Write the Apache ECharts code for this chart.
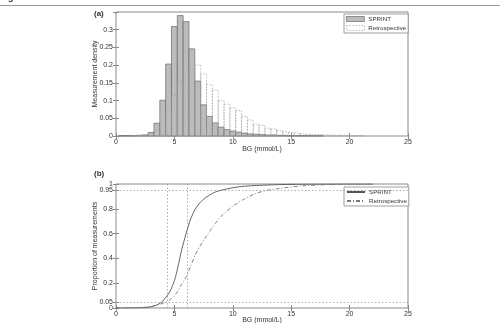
<!DOCTYPE html>
<html><head><meta charset="utf-8">
<script src="https://cdn.jsdelivr.net/npm/echarts@6/dist/echarts.min.js"></script>
<style>html,body{margin:0;padding:0;background:#fff}#c{width:500px;height:323px}</style>
</head><body><div id="c"></div>
<script>
// Histogram bin centres (mmol/L), bin width 0.5
const binCenters = [0.5,1,1.5,2,2.5,3,3.5,4,4.5,5,5.5,6,6.5,7,7.5,8,8.5,9,9.5,10,10.5,11,11.5,12,12.5,13,13.5,14,14.5,15,15.5,16,16.5,17,17.5,18,18.5,19,19.5,20,20.5,21];
const sprintDensity = [0.001,0.001,0.001,0.002,0.003,0.010,0.036,0.101,0.203,0.309,0.340,0.323,0.246,0.155,0.088,0.055,0.037,0.025,0.018,0.014,0.011,0.008,0.006,0.005,0.004,0.003,0.003,0.002,0.002,0.001,0.001,0.001,0.001,0.001,0.001,0,0,0,0,0,0,0];
const retroDensity  = [0,0,0.001,0.002,0.003,0.006,0.015,0.030,0.070,0.115,0.155,0.185,0.190,0.200,0.175,0.145,0.130,0.100,0.090,0.080,0.072,0.055,0.045,0.033,0.030,0.022,0.020,0.015,0.012,0.010,0.008,0.006,0.005,0.004,0.004,0.003,0.003,0.002,0.002,0.002,0.001,0.001];
// Cumulative distributions
const cdfX = [0,1,2,2.5,3,3.5,3.8,4,4.3,4.6,5,5.3,5.6,6,6.4,6.8,7.2,7.6,8,8.5,9,10,11,12,13,14,16,18,20,22];
const sprintCdf = [0,0,0.002,0.004,0.01,0.025,0.04,0.055,0.09,0.13,0.22,0.33,0.46,0.6,0.72,0.8,0.85,0.885,0.91,0.935,0.95,0.97,0.982,0.988,0.992,0.995,0.998,0.999,1,1];
const retroCdf  = [0,0,0.003,0.006,0.012,0.022,0.03,0.038,0.05,0.065,0.1,0.135,0.19,0.25,0.34,0.43,0.5,0.56,0.615,0.68,0.74,0.82,0.88,0.925,0.95,0.965,0.985,0.995,1,1];
const refLinesX = [4.4, 6.1];
const refLinesY = [0.05, 0.95];
const topYTicks = [0,0.05,0.1,0.15,0.2,0.25,0.3];
const bottomYTicks = [0,0.05,0.2,0.4,0.6,0.8,0.95,1];
const bottomYLabelsA = [0.05,0.2,0.4,0.6,0.8,0.95];
const bottomYLabelsB = [0,1];

const chart = echarts.init(document.getElementById('c'));
const FONT = 'Liberation Sans';
const TXT = '#333';
const AX = '#8a8a8a';

function histItem(width, style){
  return function(params, api){
    const c = api.value(0), v = api.value(1);
    if (!v) return;
    const p1 = api.coord([c - width/2, v]);
    const p2 = api.coord([c + width/2, 0]);
    return {type:'rect', shape:{x:p1[0], y:p1[1], width:p2[0]-p1[0], height:p2[1]-p1[1]}, style: style};
  };
}
const sprintStyle = {fill:'#bcbcbc', stroke:'#6a6a6a', lineWidth:0.7};
const retroStyle = {fill:'none', stroke:'#a0a0a0', lineWidth:0.7, lineDash:[1.5,1.5]};

function xAx(grid, gap){
  return {type:'value', gridIndex:grid, min:0, max:25, interval:5, position:'bottom',
    axisLine:{show:false}, splitLine:{show:false},
    axisTick:{show:true, inside:true, length:3, lineStyle:{color:AX}},
    axisLabel:{show:true, color:TXT, fontSize:7, fontFamily:FONT, margin:3, showMinLabel:true, showMaxLabel:true},
    name:'BG (mmol/L)', nameLocation:'middle', nameGap:gap, nameMoveOverlap:false,
    nameTextStyle:{color:TXT, fontSize:7, fontFamily:FONT}};
}
function xAxTop(grid){
  return {type:'value', gridIndex:grid, min:0, max:25, interval:5, position:'top',
    axisLine:{show:false}, splitLine:{show:false},
    axisTick:{show:true, inside:true, length:3, lineStyle:{color:AX}}, axisLabel:{show:false}};
}
function legendCfg(top, data){
  return {data:data, orient:'vertical', left:344, top:top, itemWidth:18, itemHeight:5, itemGap:3, padding:[2,2,2,2],
     borderColor:'#888', borderWidth:0.8, backgroundColor:'#fff', selectedMode:false,
     formatter: n => n.trim(),
     textStyle:{color:TXT, fontSize:6.2, fontFamily:FONT, padding:[0,0,0,-1]}};
}
const hiddenSym = {color:'rgba(0,0,0,0)', borderColor:'rgba(0,0,0,0)', borderWidth:0};

const option = {
  animation:false,
  backgroundColor:'#fff',
  textStyle:{fontFamily:FONT},
  graphic:[
    {type:'text', left:0, top:-7, style:{text:'Figure 2', font:'bold 9px "Liberation Sans"', fill:'#333'}},
    {type:'line', shape:{x1:0, y1:5.5, x2:500, y2:5.5}, style:{stroke:'#9a9a9a', lineWidth:1}},
    {type:'text', left:94, top:10, style:{text:'(a)', font:'bold 8px "Liberation Sans"', fill:'#333'}},
    {type:'text', left:94, top:170, style:{text:'(b)', font:'bold 8px "Liberation Sans"', fill:'#333'}}
  ],
  grid:[
    {left:116, top:12, width:292, height:124, show:true, borderColor:AX, borderWidth:1, backgroundColor:'transparent', outerBoundsMode:'none', containLabel:false},
    {left:116, top:184, width:292, height:124, show:true, borderColor:AX, borderWidth:1, backgroundColor:'transparent', outerBoundsMode:'none', containLabel:false}
  ],
  legend:[
    legendCfg(14, [{name:'SPRINT', icon:'rect', itemStyle:{color:'#bcbcbc', borderColor:'#6a6a6a', borderWidth:0.7}},
           {name:'Retrospective', icon:'rect', itemStyle:{color:'#fff', borderColor:'#a0a0a0', borderWidth:0.7, borderType:[1.5,1.5]}}]),
    legendCfg(187, [{name:'SPRINT ', itemStyle:hiddenSym}, {name:'Retrospective ', itemStyle:hiddenSym}])
  ],
  xAxis:[xAx(0, 9.5), xAx(1, 8.5), xAxTop(0), xAxTop(1)],
  yAxis:[
    {type:'value', gridIndex:0, min:0, max:0.35, interval:0.05, splitLine:{show:false}, axisLine:{show:false},
     axisTick:{show:true, inside:true, length:3, lineStyle:{color:AX}},
     axisLabel:{color:TXT, fontSize:7, fontFamily:FONT, margin:3, customValues:topYTicks},
     name:'Measurement density', nameLocation:'middle', nameGap:17, nameMoveOverlap:false,
     nameTextStyle:{color:TXT, fontSize:7, fontFamily:FONT}},
    {type:'value', gridIndex:1, min:0, max:1, interval:0.05, splitLine:{show:false}, axisLine:{show:false},
     axisTick:{show:true, inside:true, length:3, lineStyle:{color:AX}, customValues:bottomYTicks},
     axisLabel:{color:TXT, fontSize:7, fontFamily:FONT, margin:3, customValues:bottomYLabelsA, hideOverlap:false},
     name:'Proportion of measurements', nameLocation:'middle', nameGap:17, nameMoveOverlap:false,
     nameTextStyle:{color:TXT, fontSize:7, fontFamily:FONT}},
    {type:'value', gridIndex:0, min:0, max:0.35, interval:0.05, position:'right', splitLine:{show:false}, axisLine:{show:false},
     axisTick:{show:true, inside:true, length:3, lineStyle:{color:AX}}, axisLabel:{show:false}},
    {type:'value', gridIndex:1, min:0, max:1, interval:0.05, position:'right', splitLine:{show:false}, axisLine:{show:false},
     axisTick:{show:true, inside:true, length:3, lineStyle:{color:AX}, customValues:bottomYTicks}, axisLabel:{show:false}},
    {type:'value', gridIndex:1, min:0, max:1, interval:0.05, position:'left', splitLine:{show:false}, axisLine:{show:false},
     axisTick:{show:false},
     axisLabel:{color:TXT, fontSize:7, fontFamily:FONT, margin:3, customValues:bottomYLabelsB, showMinLabel:true, showMaxLabel:true}}
  ],
  series:[
    {name:'SPRINT', type:'custom', xAxisIndex:0, yAxisIndex:0, renderItem:histItem(0.5, sprintStyle),
     itemStyle:{color:'#bcbcbc'}, data: binCenters.map((c,i)=>[c, sprintDensity[i]]), z:2},
    {name:'Retrospective', type:'custom', xAxisIndex:0, yAxisIndex:0, renderItem:histItem(0.5, retroStyle),
     itemStyle:{color:'#fff'}, data: binCenters.map((c,i)=>[c, retroDensity[i]]), z:3},
    {name:'SPRINT ', type:'line', xAxisIndex:1, yAxisIndex:1, symbol:'none', smooth:0.3,
     lineStyle:{color:'#555', width:0.9}, itemStyle:{color:'#555'},
     data: cdfX.map((x,i)=>[x, sprintCdf[i]]), z:3,
     markLine:{silent:true, symbol:'none', label:{show:false},
       lineStyle:{color:'#9a9a9a', type:[1.5,2], width:0.8},
       data: refLinesX.map(v=>({xAxis:v})).concat(refLinesY.map(v=>({yAxis:v})))}},
    {name:'Retrospective ', type:'line', xAxisIndex:1, yAxisIndex:1, symbol:'none', smooth:0.3,
     lineStyle:{color:'#777', width:0.9, type:[4,2,1,2]}, itemStyle:{color:'#777'},
     data: cdfX.map((x,i)=>[x, retroCdf[i]]), z:3}
  ]
};
chart.setOption(option);
</script>
</body></html>
